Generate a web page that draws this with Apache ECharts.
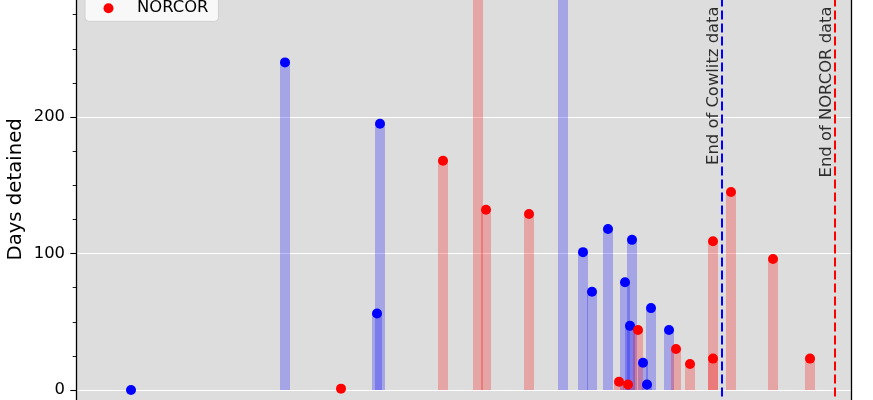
<!DOCTYPE html>
<html>
<head>
<meta charset="utf-8">
<script src="https://cdn.jsdelivr.net/npm/echarts@6/dist/echarts.min.js"></script>
<style>
html,body{margin:0;padding:0;width:873px;height:400px;overflow:hidden;background:#fff;}
#c{position:absolute;left:0;top:-170px;width:873px;height:730px;}
</style>
</head>
<body>
<div id="c"></div>
<script>
// x = day index (release day), y = days detained
const cowlitzDay  = [55, 209, 301, 304, 487, 507, 516, 532, 549, 556, 554, 567, 571, 575, 593];
const cowlitzDays = [0, 240, 56, 195, 320, 101, 72, 118, 79, 110, 47, 20, 4, 60, 44];
const norcorDay   = [265, 367, 402, 410, 453, 543, 552, 562, 600, 614, 637, 637, 655, 697, 734];
const norcorDays  = [1, 168, 310, 132, 129, 6, 4, 44, 30, 19, 109, 23, 145, 96, 23];
const endDay      = [646, 759];
const endLabels   = ['End of Cowlitz data', 'End of NORCOR data'];
const endColors   = ['#0000ff', '#ff0000'];
const labelTopValue = 281;
const seriesNames = ['Cowlitz', 'NORCOR'];
const yTicks = [-100, 0, 100, 200, 300];

const FONT = 'DejaVu Sans';
const pairs = (xs, ys) => xs.map((x, i) => [x, ys[i]]);

const chart = echarts.init(document.getElementById('c'), null, {renderer: 'canvas'});
chart.setOption({
  animation: false,
  grid: {left: 76, right: 22, top: 22.2, bottom: 33.5, show: true, backgroundColor: '#dddddd', borderWidth: 0,
         containLabel: false, outerBoundsMode: 'none'},
  legend: {
    data: seriesNames.map(n => ({name: n, icon: 'circle'})),
    orient: 'vertical',
    left: 85, top: 137.6,
    itemWidth: 33, itemHeight: 10, itemGap: 10.6,
    padding: [6, 10, 5.2, 18.5],
    backgroundColor: 'rgba(248,248,248,1)',
    borderColor: '#d0d0d0', borderWidth: 1, borderRadius: 4,
    textStyle: {color: '#000', fontSize: 16.4, fontFamily: FONT, padding: [0, 0, 0, 7]},
    selectedMode: false
  },
  xAxis: {type: 'value', min: 0, max: 775, show: false, splitLine: {show: false}},
  yAxis: [{
    type: 'value', min: yTicks[0], max: 394, interval: 100,
    axisLine: {show: true, lineStyle: {color: '#000', width: 1.3}},
    axisTick: {show: true, length: 5.7, lineStyle: {color: '#000', width: 1.1}},
    minorTick: {show: true, splitNumber: 4, length: 3.3, lineStyle: {color: '#000', width: 0.9}},
    minorSplitLine: {show: false},
    axisLabel: {color: '#000', fontSize: 16.4, fontFamily: FONT, margin: 11},
    splitLine: {show: true, lineStyle: {color: '#ffffff', width: 1.2}},
    name: 'Days detained', nameLocation: 'middle', nameGap: 50, nameMoveOverlap: false,
    nameTextStyle: {color: '#000', fontSize: 19.7, fontFamily: FONT}
  }, {
    type: 'value', min: yTicks[0], max: 394, position: 'right',
    axisLine: {show: true, lineStyle: {color: '#000', width: 1.3}},
    axisTick: {show: false}, axisLabel: {show: false}, splitLine: {show: false}
  }],
  series: [
    {type: 'bar', name: 'Cowlitz stay', data: pairs(cowlitzDay, cowlitzDays), barWidth: 10, barGap: '-100%',
     itemStyle: {color: 'rgba(0,0,255,0.25)'}, silent: true},
    {type: 'scatter', name: seriesNames[0], data: pairs(cowlitzDay, cowlitzDays), symbolSize: 10,
     itemStyle: {color: '#0000ff', opacity: 1}, silent: true},
    {type: 'bar', name: 'NORCOR stay', data: pairs(norcorDay, norcorDays), barWidth: 10, barGap: '-100%',
     itemStyle: {color: 'rgba(255,0,0,0.25)'}, silent: true},
    {type: 'scatter', name: seriesNames[1], data: pairs(norcorDay, norcorDays), symbolSize: 10,
     itemStyle: {color: '#ff0000', opacity: 1}, silent: true},
    {type: 'scatter', name: 'notes', data: endDay.map(x => [x, labelTopValue]), symbolSize: 1,
     itemStyle: {color: 'rgba(0,0,0,0)'}, silent: true,
     label: {show: true, position: 'inside', rotate: 90, align: 'right', verticalAlign: 'bottom',
             formatter: p => endLabels[p.dataIndex], color: '#000', fontSize: 16.4, fontFamily: FONT},
     markLine: {silent: true, symbol: ['none', 'none'], label: {show: false},
       data: endDay.map((x, i) => ({xAxis: x, lineStyle: {color: endColors[i], type: [9, 4], width: 2}}))}
    }
  ]
});
</script>
</body>
</html>
